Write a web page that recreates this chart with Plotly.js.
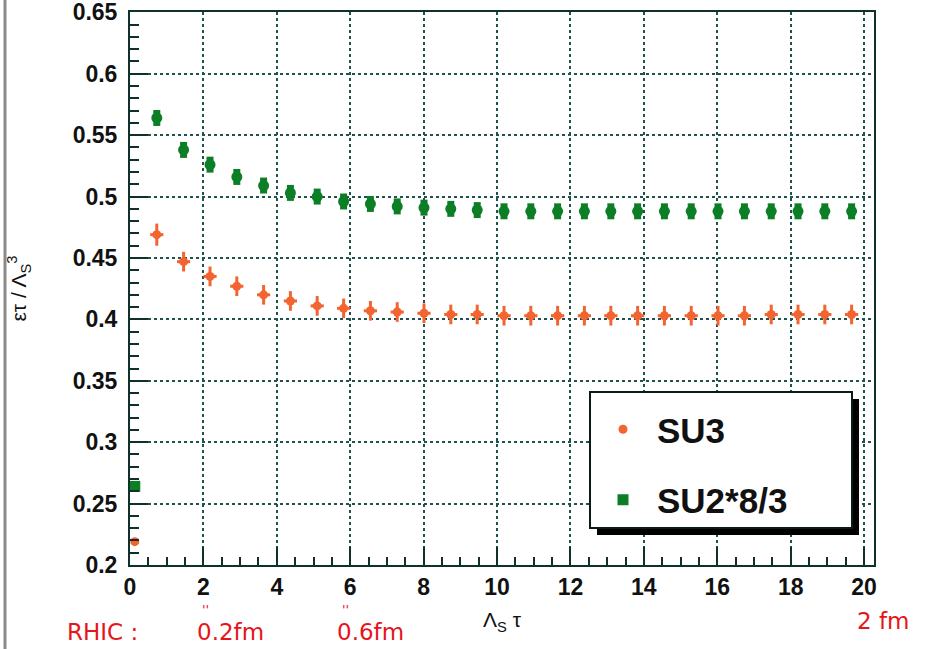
<!DOCTYPE html>
<html>
<head>
<meta charset="utf-8">
<script src="https://cdn.plot.ly/plotly-3.0.1.min.js"></script>
<style>html,body{margin:0;padding:0;background:#fff;}#chart{width:936px;height:649px;}</style>
</head>
<body>
<div id="chart"></div>
<script>
// Λ_S τ values
const tau = [0.13, 0.73, 1.46, 2.18, 2.91, 3.64, 4.37, 5.10, 5.82, 6.55, 7.28, 8.01, 8.74, 9.46,
  10.19, 10.92, 11.65, 12.38, 13.10, 13.83, 14.56, 15.29, 16.02, 16.74, 17.47, 18.20, 18.93, 19.66];
// ετ / Λ_S^3
const su3 = [0.219, 0.469, 0.447, 0.435, 0.427, 0.420, 0.415, 0.411, 0.409, 0.407, 0.406, 0.405, 0.404, 0.404,
  0.403, 0.403, 0.403, 0.403, 0.403, 0.403, 0.403, 0.403, 0.403, 0.403, 0.404, 0.404, 0.404, 0.404];
const su3err = [0, 0.009, 0.008, 0.008, 0.008, 0.008, 0.008, 0.008, 0.008, 0.008, 0.008, 0.008, 0.008, 0.008,
  0.008, 0.008, 0.008, 0.008, 0.008, 0.008, 0.008, 0.008, 0.008, 0.008, 0.008, 0.008, 0.008, 0.008];
const su2 = [0.264, 0.564, 0.538, 0.526, 0.516, 0.509, 0.503, 0.500, 0.496, 0.494, 0.492, 0.491, 0.490, 0.489,
  0.488, 0.488, 0.488, 0.488, 0.488, 0.488, 0.488, 0.488, 0.488, 0.488, 0.488, 0.488, 0.488, 0.488];
const su2err = [0, 0.0065, 0.0065, 0.0065, 0.0065, 0.0065, 0.0065, 0.0065, 0.0065, 0.0065, 0.0065, 0.0065, 0.0065, 0.0065,
  0.0065, 0.0065, 0.0065, 0.0065, 0.0065, 0.0065, 0.0065, 0.0065, 0.0065, 0.0065, 0.0065, 0.0065, 0.0065, 0.0065];
const seriesNames = ['SU3', 'SU2*8/3'];
const yTicks = [0.2, 0.25, 0.3, 0.35, 0.4, 0.45, 0.5, 0.55, 0.6, 0.65];
const yTickText = ['0.2', '0.25', '0.3', '0.35', '0.4', '0.45', '0.5', '0.55', '0.6', '0.65'];
const xTicks = [0, 2, 4, 6, 8, 10, 12, 14, 16, 18, 20];

const orange = '#f26430';
const green = '#0c7f26';
const axisCol = '#10302c';
const gridCol = '#1f524d';
const red = '#e5151b';

const su3Symbols = su3.map(() => 'circle');
const su2Symbols = su2.map((v, i) => i === 0 ? 'square' : 'circle');
const su3ErrX = su3err.map(e => e > 0 ? 0.18 : 0);

const traces = [
  {
    x: tau, y: su3, name: seriesNames[0], type: 'scatter', mode: 'markers',
    legendgroup: 'a', cliponaxis: false,
    marker: {color: orange, size: 9, symbol: su3Symbols},
    error_y: {type: 'data', array: su3err, visible: true, color: orange, thickness: 3, width: 0},
    error_x: {type: 'data', array: su3ErrX, visible: true, color: orange, thickness: 3, width: 0}
  },
  {
    x: tau, y: su2, name: seriesNames[1], type: 'scatter', mode: 'markers',
    legendgroup: 'b', cliponaxis: false,
    marker: {color: green, size: 11, symbol: su2Symbols},
    error_y: {type: 'data', array: su2err, visible: true, color: green, thickness: 7, width: 0}
  }
];

const L = 130, R = 874, T = 12, B = 565;
const px = v => (v - L) / (R - L);
const py = v => (B - v) / (B - T);

const redFont = {size: 23, color: red, family: 'DejaVu Sans'};
const dittoFont = {size: 13, color: red, family: 'DejaVu Sans'};

const layout = {
  width: 936, height: 649,
  margin: {l: L, r: 936 - R, t: T, b: 649 - B},
  paper_bgcolor: '#ffffff', plot_bgcolor: '#ffffff',
  showlegend: true,
  font: {family: 'Liberation Sans, Arial, sans-serif', color: '#111'},
  xaxis: {
    range: [0, 20.27], tickvals: xTicks, ticktext: xTicks.map(String),
    ticks: 'inside', ticklen: 18, tickwidth: 2, tickcolor: axisCol,
    showline: true, linecolor: axisCol, linewidth: 2, mirror: true,
    showgrid: true, gridcolor: gridCol, griddash: 'dot', gridwidth: 2,
    zeroline: false, ticklabeloverflow: 'allow',
    tickfont: {size: 23, weight: 'bold', color: '#111'},
    minor: {dtick: 0.5, tick0: 0, ticks: 'inside', ticklen: 8, tickwidth: 2, tickcolor: axisCol, showgrid: false},
    title: {text: 'Λ<sub>S</sub> τ', font: {size: 21, color: '#111'}, standoff: 14}
  },
  yaxis: {
    range: [0.2, 0.6503], tickvals: yTicks, ticktext: yTickText,
    ticks: 'inside', ticklen: 18, tickwidth: 2, tickcolor: axisCol,
    showline: true, linecolor: axisCol, linewidth: 2, mirror: true,
    showgrid: true, gridcolor: gridCol, griddash: 'dot', gridwidth: 2,
    zeroline: false, ticklabelstandoff: 6, ticklabeloverflow: 'allow',
    tickfont: {size: 23, weight: 'bold', color: '#111'},
    minor: {dtick: 0.01, tick0: 0.2, ticks: 'inside', ticklen: 9, tickwidth: 2, tickcolor: axisCol, showgrid: false},
    title: {text: 'ετ / Λ<sub>S</sub><sup>3</sup>', font: {size: 21, color: '#111'}, standoff: 40}
  },
  legend: {
    x: px(589), y: py(400), xanchor: 'left', yanchor: 'top',
    bgcolor: 'rgba(0,0,0,0)', borderwidth: 0,
    font: {size: 35, weight: 'bold', color: '#111'},
    tracegroupgap: 22, itemwidth: 58
  },
  shapes: [
    {type: 'rect', xref: 'paper', yref: 'paper', layer: 'above',
     x0: px(597), x1: px(859), y0: py(399), y1: py(535),
     fillcolor: '#000', line: {width: 0}},
    {type: 'rect', xref: 'paper', yref: 'paper', layer: 'above',
     x0: px(590), x1: px(852), y0: py(392), y1: py(528),
     fillcolor: '#fff', line: {color: '#0a1a18', width: 2}},
    {type: 'line', xref: 'paper', yref: 'paper', layer: 'above',
     x0: px(5), x1: px(5), y0: py(0), y1: py(649),
     line: {color: '#8a8a8a', width: 3}}
  ],
  annotations: [
    {text: 'RHIC :', xref: 'paper', yref: 'paper', x: px(102), y: py(632), xanchor: 'center', yanchor: 'middle', showarrow: false, font: redFont},
    {text: '0.2fm', xref: 'paper', yref: 'paper', x: px(230), y: py(632), xanchor: 'center', yanchor: 'middle', showarrow: false, font: redFont},
    {text: "''", xref: 'paper', yref: 'paper', x: px(205), y: py(609), xanchor: 'center', yanchor: 'middle', showarrow: false, font: dittoFont},
    {text: '0.6fm', xref: 'paper', yref: 'paper', x: px(370), y: py(632), xanchor: 'center', yanchor: 'middle', showarrow: false, font: redFont},
    {text: "''", xref: 'paper', yref: 'paper', x: px(345), y: py(609), xanchor: 'center', yanchor: 'middle', showarrow: false, font: dittoFont},
    {text: '2 fm', xref: 'paper', yref: 'paper', x: px(883), y: py(621), xanchor: 'center', yanchor: 'middle', showarrow: false, font: redFont}
  ]
};

Plotly.newPlot('chart', traces, layout, {staticPlot: true, displayModeBar: false});
</script>
</body>
</html>
